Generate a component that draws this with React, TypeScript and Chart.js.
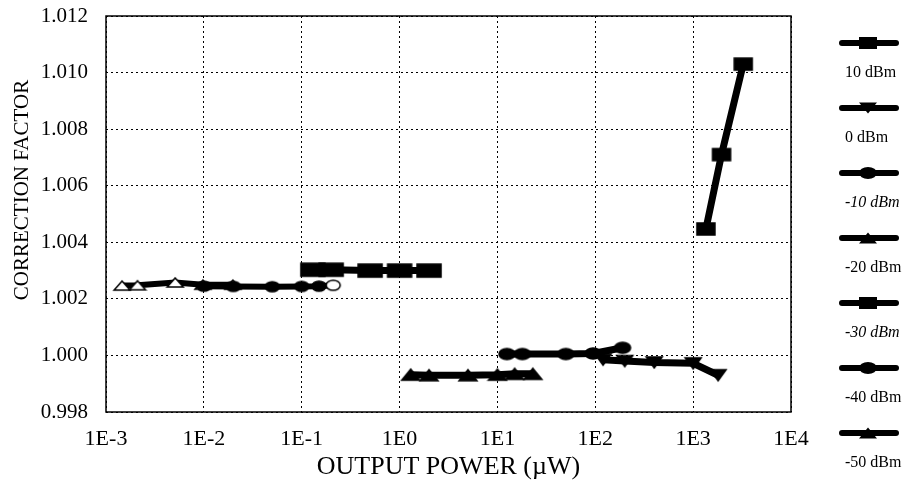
import React, { useEffect, useRef } from 'react';
import { Chart, registerables } from 'chart.js';

Chart.register(...registerables);

// ---------- data ----------
const X_TICKS = [1e-3, 1e-2, 1e-1, 1, 10, 100, 1000, 10000];
const X_TICK_LABELS = ['1E-3', '1E-2', '1E-1', '1E0', '1E1', '1E2', '1E3', '1E4'];
const Y_TICK_LABELS = ['0.998', '1.000', '1.002', '1.004', '1.006', '1.008', '1.010', '1.012'];

const SERIES_LABELS = ['10 dBm', '0 dBm', '-10 dBm', '-20 dBm', '-30 dBm', '-40 dBm', '-50 dBm'];

const P10_X = [1350, 1950, 3250];
const P10_Y = [1.00447, 1.0071, 1.0103];

const P0_X = [120, 200, 400, 1000, 1800];
const P0_Y = [0.99985, 0.9998, 0.99975, 0.99972, 0.9993];

const M10_X = [12.5, 18, 50, 95, 190];
const M10_Y = [1.00005, 1.00005, 1.00005, 1.00007, 1.00027];

const M20_X = [1.3, 2, 5, 10, 15, 23];
const M20_Y = [0.99932, 0.9993, 0.9993, 0.99932, 0.99935, 0.99935];

const M30_X = [0.13, 0.2, 0.5, 1.0, 2.0];
const M30_Y = [1.00303, 1.00303, 1.003, 1.003, 1.003];

const M40_X = [0.01, 0.02, 0.05, 0.1, 0.15, 0.21];
const M40_Y = [1.00245, 1.00244, 1.00243, 1.00244, 1.00245, 1.00248];

const M50_X = [0.00146, 0.0021, 0.0051, 0.0098, 0.0198];
const M50_Y = [1.00247, 1.00248, 1.00258, 1.0025, 1.0025];

const FONT = '"Liberation Serif", "DejaVu Serif", serif';

function pts(xs: number[], ys: number[]) {
  return xs.map((x, i) => ({ x, y: ys[i] }));
}

type Shape = 'rect' | 'ellipse' | 'tri' | 'tridown';

function drawShape(ctx: CanvasRenderingContext2D, shape: Shape, cx: number, cy: number, w: number, h: number) {
  ctx.beginPath();
  if (shape === 'rect') {
    ctx.rect(cx - w / 2, cy - h / 2, w, h);
  } else if (shape === 'ellipse') {
    ctx.ellipse(cx, cy, w / 2, h / 2, 0, 0, Math.PI * 2);
  } else if (shape === 'tri') {
    ctx.moveTo(cx, cy - h / 2);
    ctx.lineTo(cx + w / 2, cy + h / 2);
    ctx.lineTo(cx - w / 2, cy + h / 2);
    ctx.closePath();
  } else {
    ctx.moveTo(cx, cy + h / 2);
    ctx.lineTo(cx + w / 2, cy - h / 2);
    ctx.lineTo(cx - w / 2, cy - h / 2);
    ctx.closePath();
  }
}

function makeMarker(shape: Shape, w: number, h: number, fill: string) {
  const c = document.createElement('canvas');
  c.width = w + 4;
  c.height = h + 4;
  const ctx = c.getContext('2d')!;
  ctx.fillStyle = fill;
  ctx.strokeStyle = '#000';
  ctx.lineWidth = 1.5;
  drawShape(ctx, shape, c.width / 2, c.height / 2, w, h);
  ctx.fill();
  ctx.stroke();
  return c;
}

const framePlugin = {
  id: 'frameLegend',
  afterDraw(chart: any) {
    const { ctx, chartArea } = chart;
    ctx.save();
    ctx.strokeStyle = '#000';
    ctx.lineWidth = 1.5;
    ctx.setLineDash([]);
    ctx.strokeRect(chartArea.left, chartArea.top, chartArea.right - chartArea.left, chartArea.bottom - chartArea.top);

    // y title
    ctx.save();
    ctx.translate(22, 190);
    ctx.rotate(-Math.PI / 2);
    ctx.fillStyle = '#000';
    ctx.font = `21px ${FONT}`;
    ctx.textAlign = 'center';
    ctx.textBaseline = 'middle';
    ctx.fillText('CORRECTION FACTOR', 0, 0);
    ctx.restore();

    // legend
    const shapes: Shape[] = ['rect', 'tridown', 'ellipse', 'tri', 'rect', 'ellipse', 'tri'];
    const italic = [false, false, true, false, true, false, false];
    SERIES_LABELS.forEach((lab, i) => {
      const sy = 43 + i * 65;
      ctx.strokeStyle = '#000';
      ctx.lineWidth = 6;
      ctx.lineCap = 'round';
      ctx.beginPath();
      ctx.moveTo(842, sy);
      ctx.lineTo(896, sy);
      ctx.stroke();
      ctx.fillStyle = '#000';
      const s = shapes[i];
      const h = s === 'tri' || s === 'tridown' ? 11 : 12;
      drawShape(ctx, s, 868, sy, 18, h);
      ctx.fill();
      ctx.font = `${italic[i] ? 'italic ' : ''}16px ${FONT}`;
      ctx.textAlign = 'left';
      ctx.textBaseline = 'middle';
      ctx.fillText(lab, 845, 73 + i * 65);
    });
    ctx.restore();
  },
};

export default function App() {
  const ref = useRef<HTMLCanvasElement | null>(null);

  useEffect(() => {
    if (!ref.current) return;
    const sq = makeMarker('rect', 18, 12, '#000');
    const bow = makeMarker('rect', 24, 13, '#000');
    const triDown = makeMarker('tridown', 16, 11, '#000');
    const tri = makeMarker('tri', 18, 11, '#000');
    const ell = makeMarker('ellipse', 16, 11, '#000');
    const ellSmall = makeMarker('ellipse', 14, 10, '#000');
    const ellOpen = makeMarker('ellipse', 14, 10, '#fff');
    const triOpen = makeMarker('tri', 16, 9, '#fff');
    const base = {
      showLine: true,
      borderColor: '#000',
      borderWidth: 7,
      pointRadius: 7,
      tension: 0,
    };
    const chart = new Chart(ref.current, {
      type: 'scatter',
      data: {
        datasets: [
          { ...base, label: SERIES_LABELS[0], data: pts(P10_X, P10_Y), pointStyle: sq },
          { ...base, label: SERIES_LABELS[1], data: pts(P0_X, P0_Y), pointStyle: triDown },
          { ...base, label: SERIES_LABELS[2], data: pts(M10_X, M10_Y), pointStyle: ell },
          { ...base, label: SERIES_LABELS[3], data: pts(M20_X, M20_Y), pointStyle: tri },
          { ...base, label: SERIES_LABELS[4], data: pts(M30_X, M30_Y), pointStyle: bow },
          {
            ...base,
            label: SERIES_LABELS[5],
            data: pts(M40_X, M40_Y),
            borderWidth: 6,
            pointStyle: M40_X.map((_, i) => (i === M40_X.length - 1 ? ellOpen : ellSmall)),
          },
          {
            ...base,
            label: SERIES_LABELS[6],
            data: pts(M50_X, M50_Y),
            borderWidth: 6,
            pointStyle: triOpen,
          },
        ],
      },
      options: {
        animation: false,
        responsive: true,
        maintainAspectRatio: false,
        layout: { padding: { left: 0, right: 130, top: 16, bottom: 0 } },
        plugins: { legend: { display: false }, tooltip: { enabled: false } },
        scales: {
          x: {
            type: 'logarithmic',
            min: 1e-3,
            max: 1e4,
            afterBuildTicks: (scale: any) => {
              scale.ticks = X_TICKS.map((v) => ({ value: v }));
            },
            afterFit: (scale: any) => {
              scale.height = 79;
            },
            ticks: {
              autoSkip: false,
              maxRotation: 0,
              padding: 14,
              color: '#000',
              font: { family: FONT, size: 22 },
              callback: (v: any) => {
                const i = X_TICKS.findIndex((t) => Math.abs(Math.log10(t) - Math.log10(Number(v))) < 1e-6);
                return i >= 0 ? X_TICK_LABELS[i] : '';
              },
            },
            grid: { color: '#000', lineWidth: 1, drawTicks: false },
            border: { display: false, dash: [2, 3] },
            title: {
              display: true,
              text: 'OUTPUT POWER (\u00b5W)',
              color: '#000',
              font: { family: FONT, size: 26 },
              padding: { top: 0, bottom: 8 },
            },
          },
          y: {
            type: 'linear',
            min: 0.998,
            max: 1.012,
            afterBuildTicks: (scale: any) => {
              scale.ticks = Y_TICK_LABELS.map((l) => ({ value: parseFloat(l) }));
            },
            afterFit: (scale: any) => {
              scale.width = 106;
              scale.paddingTop = 0;
              scale.paddingBottom = 0;
            },
            ticks: {
              padding: 18,
              color: '#000',
              font: { family: FONT, size: 21 },
              callback: (v: any) => {
                const i = Y_TICK_LABELS.findIndex((l) => Math.abs(parseFloat(l) - Number(v)) < 1e-7);
                return i >= 0 ? Y_TICK_LABELS[i] : '';
              },
            },
            grid: { color: '#000', lineWidth: 1, drawTicks: false },
            border: { display: false, dash: [2, 3] },
          },
        },
      },
      plugins: [framePlugin],
    });
    return () => chart.destroy();
  }, []);

  return (
    <div style={{ position: 'absolute', left: 0, top: 0, width: 921, height: 491, background: '#fff' }}>
      <canvas ref={ref} />
    </div>
  );
}
